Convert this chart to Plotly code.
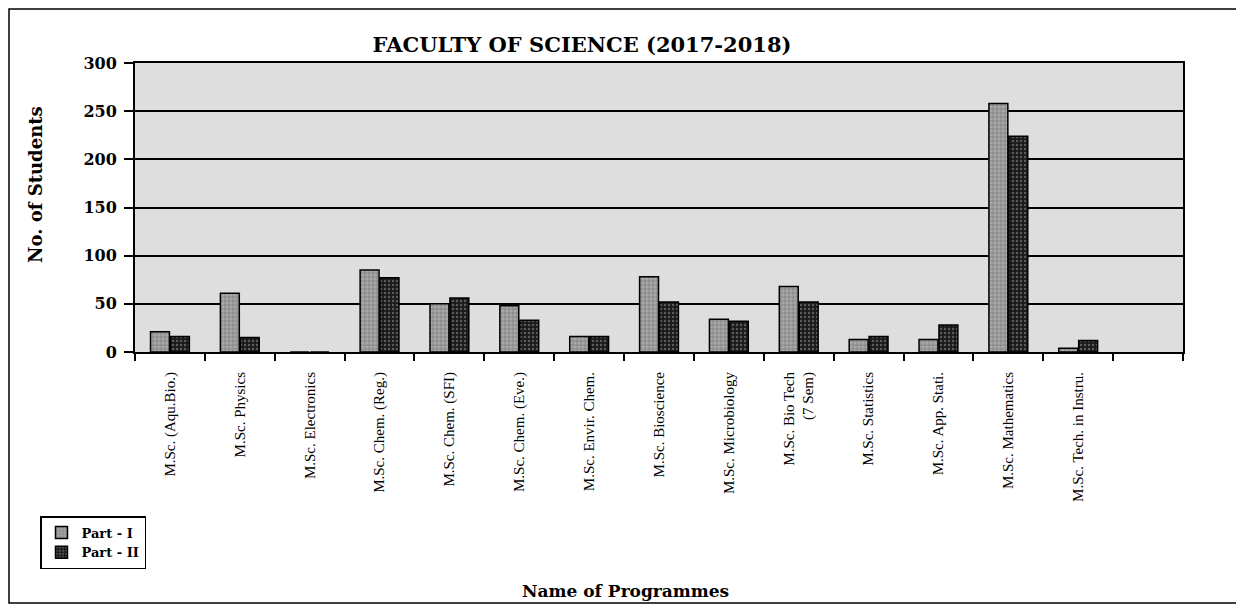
import plotly.graph_objects as go

categories = [
    "M.Sc. (Aqu.Bio.)", "M.Sc. Physics", "M.Sc. Electronics", "M.Sc. Chem. (Reg.)",
    "M.Sc. Chem. (SFI)", "M.Sc. Chem. (Eve.)", "M.Sc. Envir. Chem.", "M.Sc. Bioscience",
    "M.Sc. Microbiology", "M.Sc. Bio Tech<br>(7 Sem)", "M.Sc. Statistics", "M.Sc. App. Stati.",
    "M.Sc. Mathematics", "M.Sc. Tech. in Instru.", " ",
]
part1 = [21, 61, 0, 85, 50, 48, 16, 78, 34, 68, 13, 13, 258, 4, None]
part2 = [16, 15, 0, 77, 56, 33, 16, 52, 32, 52, 16, 28, 224, 12, None]
yticks = [0, 50, 100, 150, 200, 250, 300]

SERIF = "DejaVu Serif"

# page offset (body margin) of 8px
OFF = 8
W, H = 1236, 603
L, T, R, B = 135 - OFF, 63 - OFF, 1183 - OFF, 352 - OFF
PW, PH = R - L, B - T


def px(xpage):
    return (xpage - OFF - L) / PW


def py(ypage):
    return (B - (ypage - OFF)) / PH


fig = go.Figure()
fig.add_trace(go.Bar(
    x=categories, y=part1, name="Part - I",
    marker=dict(color="#a8a8a8", line=dict(color="black", width=1.5),
                pattern=dict(shape="+", fgcolor="#555555", size=4, solidity=0.35)),
))
fig.add_trace(go.Bar(
    x=categories, y=part2, name="Part - II",
    marker=dict(color="#1a1a1a", line=dict(color="black", width=1.5),
                pattern=dict(shape=".", fgcolor="#9a9a9a", size=4, solidity=0.3)),
))

fig.update_layout(
    width=W, height=H,
    margin=dict(l=L, r=W - R, t=T, b=H - B),
    paper_bgcolor="white",
    plot_bgcolor="#dedede",
    barmode="group",
    bargap=0.43,
    bargroupgap=0.05,
    showlegend=True,
    legend=dict(
        x=px(40), y=py(516), xanchor="left", yanchor="top",
        bordercolor="black", borderwidth=1.5, bgcolor="white",
        font=dict(family=SERIF, size=13, color="black", weight="bold"),
        tracegroupgap=2, itemwidth=30,
    ),
    xaxis=dict(
        type="category",
        tickangle=-90,
        tickfont=dict(family="Liberation Serif", size=15, color="black"),
        ticks="outside", ticklen=7, tickwidth=2, tickcolor="black",
        tickson="boundaries",
        ticklabelstandoff=12,
        showline=True, linecolor="black", linewidth=2, mirror=True,
        showgrid=False,
    ),
    yaxis=dict(
        range=[0, 300],
        tickvals=yticks,
        tickfont=dict(family=SERIF, size=16, color="black", weight="bold"),
        ticks="outside", ticklen=9, tickwidth=1.5, tickcolor="black",
        ticklabelstandoff=4,
        showline=True, linecolor="black", linewidth=2, mirror=True,
        showgrid=True, gridcolor="black", gridwidth=2,
        zeroline=False,
    ),
    title=dict(
        text="FACULTY OF SCIENCE (2017-2018)",
        x=(582 - OFF) / W, xanchor="center", y=1 - (45 - OFF) / H, yanchor="middle",
        font=dict(family=SERIF, size=21, color="black", weight="bold"),
    ),
    annotations=[
        dict(
            text="Name of Programmes", xref="paper", yref="paper",
            x=px(625), y=py(591), xanchor="center", yanchor="middle",
            showarrow=False,
            font=dict(family=SERIF, size=17, color="black", weight="bold"),
        ),
        dict(
            text="No. of Students", xref="paper", yref="paper",
            x=px(35), y=py(185), xanchor="center", yanchor="middle",
            textangle=-90, showarrow=False,
            font=dict(family=SERIF, size=18, color="black", weight="bold"),
        ),
    ],
    shapes=[dict(
        type="rect", xref="paper", yref="paper",
        x0=px(9), x1=px(1240),
        y0=py(603), y1=py(9),
        line=dict(color="black", width=1.5), layer="below",
    )],
)

fig.write_html("out.html")
